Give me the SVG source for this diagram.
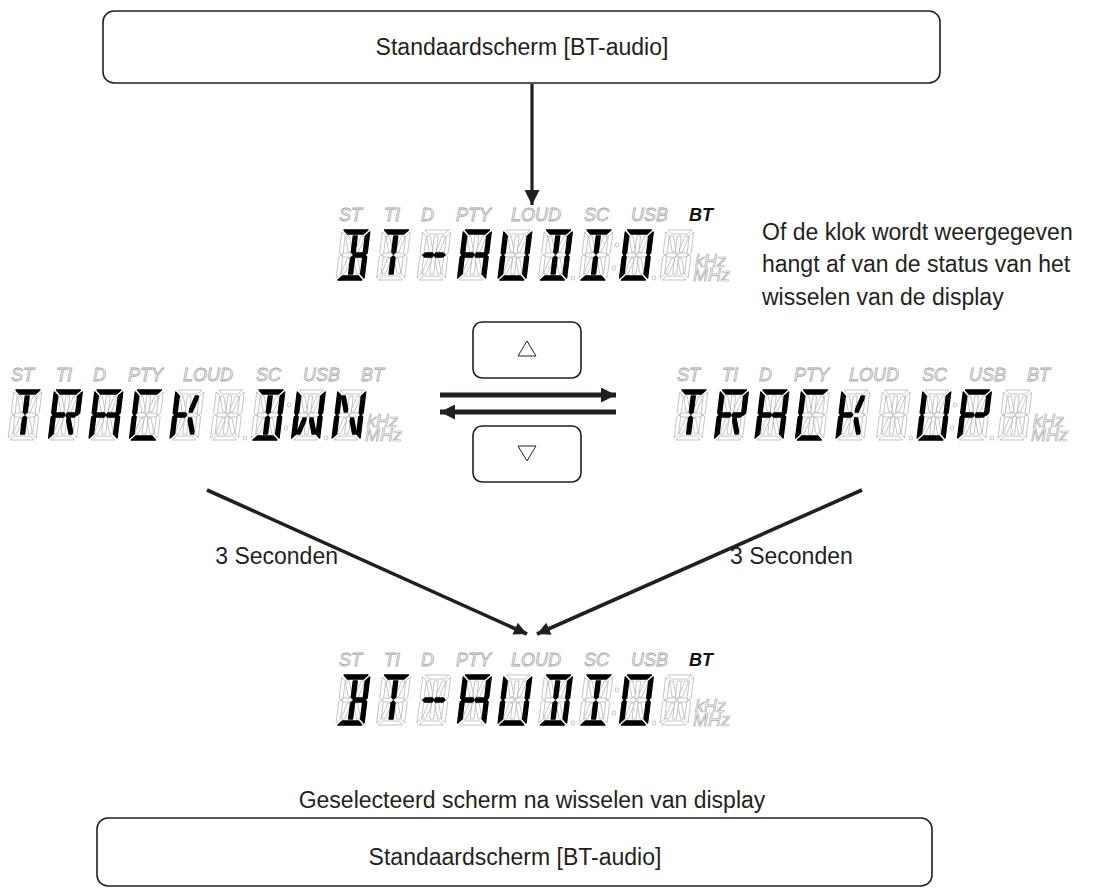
<svg xmlns="http://www.w3.org/2000/svg" xmlns:xlink="http://www.w3.org/1999/xlink" width="1119" height="890" viewBox="0 0 1119 890">
<style>
.box{fill:#fff;stroke:#231f20;stroke-width:1.6}
.lbl{font-family:"Liberation Sans",Arial,sans-serif;font-size:23px;fill:#231f20}
.ind{font-family:"Liberation Sans",Arial,sans-serif;font-size:18px;font-style:italic;fill:#fff;stroke:#a8a8a8;stroke-width:0.8}
.bt{font-family:"Liberation Sans",Arial,sans-serif;font-size:18px;font-style:italic;font-weight:bold;fill:#111}
.unit{font-family:"Liberation Sans",Arial,sans-serif;font-size:18px;font-style:italic;fill:#fff;stroke:#a8a8a8;stroke-width:0.7}
.off{fill:#fff;stroke:#a0a0a0;stroke-width:0.6}
.on{fill:#000;stroke:#000;stroke-width:1.3;stroke-linejoin:round}
.sep{fill:#fff;stroke:#a0a0a0;stroke-width:0.6}
.conn{stroke:#231f20;fill:none}
.tri{fill:#fff;stroke:#231f20;stroke-width:1}
</style>
<defs>
<path id="sa" d="M2,0 L26,0 L22,4 L6,4 Z"/>
<path id="sd" d="M2,50 L26,50 L22,46 L6,46 Z"/>
<path id="sf" d="M0,2 L4,6 L4,23 L2,25 L0,23 Z"/>
<path id="se" d="M0,27 L2,25 L4,27 L4,44 L0,48 Z"/>
<path id="sb" d="M28,2 L28,23 L26,25 L24,23 L24,6 Z"/>
<path id="sc" d="M28,27 L28,48 L24,44 L24,27 L26,25 Z"/>
<path id="sg1" d="M3,25 L5,23 L12.5,23 L13.5,25 L12.5,27 L5,27 Z"/>
<path id="sg2" d="M15.5,23 L23,23 L25,25 L23,27 L15.5,27 L14.5,25 Z"/>
<path id="si" d="M12,6 L16,6 L16,22 L14,24 L12,22 Z"/>
<path id="sl" d="M12,28 L14,26 L16,28 L16,44 L12,44 Z"/>
<path id="sh" d="M5,6 L8,6 L12,19 L12,22 L9,22 L5,9 Z"/>
<path id="sj" d="M23,6 L20,6 L16,19 L16,22 L19,22 L23,9 Z"/>
<path id="sk" d="M5,44 L8,44 L12,31 L12,28 L9,28 L5,41 Z"/>
<path id="sm" d="M23,44 L20,44 L16,31 L16,28 L19,28 L23,41 Z"/>
<g id="cell" class="off">
<use href="#sa"/><use href="#sb"/><use href="#sc"/><use href="#sd"/><use href="#se"/><use href="#sf"/><use href="#sg1"/><use href="#sg2"/><use href="#si"/><use href="#sl"/><use href="#sh"/><use href="#sj"/><use href="#sk"/><use href="#sm"/>
</g>
<g id="gB"><use href="#sa"/><use href="#sb"/><use href="#sc"/><use href="#sd"/><use href="#sg2"/><use href="#si"/><use href="#sl"/></g>
<g id="gT"><use href="#sa"/><use href="#si"/><use href="#sl"/></g>
<g id="gDash"><use href="#sg1"/><use href="#sg2"/></g>
<g id="gA"><use href="#sa"/><use href="#sb"/><use href="#sc"/><use href="#se"/><use href="#sf"/><use href="#sg1"/><use href="#sg2"/></g>
<g id="gU"><use href="#sb"/><use href="#sc"/><use href="#sd"/><use href="#se"/><use href="#sf"/></g>
<g id="gD"><use href="#sa"/><use href="#sb"/><use href="#sc"/><use href="#sd"/><use href="#si"/><use href="#sl"/></g>
<g id="gI"><use href="#sa"/><use href="#sd"/><use href="#si"/><use href="#sl"/></g>
<g id="gO"><use href="#sa"/><use href="#sb"/><use href="#sc"/><use href="#sd"/><use href="#se"/><use href="#sf"/></g>
<g id="gR"><use href="#sa"/><use href="#sb"/><use href="#se"/><use href="#sf"/><use href="#sg1"/><use href="#sg2"/><use href="#sm"/></g>
<g id="gC"><use href="#sa"/><use href="#sd"/><use href="#se"/><use href="#sf"/></g>
<g id="gK"><use href="#se"/><use href="#sf"/><use href="#sg1"/><use href="#sj"/><use href="#sm"/></g>
<g id="gW"><use href="#sb"/><use href="#sc"/><use href="#se"/><use href="#sf"/><use href="#sk"/><use href="#sm"/></g>
<g id="gN"><use href="#sb"/><use href="#sc"/><use href="#se"/><use href="#sf"/><use href="#sh"/><use href="#sm"/></g>
<g id="gP"><use href="#sa"/><use href="#sb"/><use href="#se"/><use href="#sf"/><use href="#sg1"/><use href="#sg2"/></g>
<g id="seps" class="sep">
<ellipse cx="237" cy="48" rx="1.8" ry="2"/>
<ellipse cx="281" cy="15" rx="1.8" ry="2"/>
<ellipse cx="278" cy="38" rx="1.8" ry="2"/>
<ellipse cx="318" cy="48" rx="1.8" ry="2"/>
</g>
<g id="inds">
<text class="ind" x="3" y="-9">ST</text>
<text class="ind" x="48" y="-9">TI</text>
<text class="ind" x="85" y="-9">D</text>
<text class="ind" x="120" y="-9">PTY</text>
<text class="ind" x="175" y="-9">LOUD</text>
<text class="ind" x="248" y="-9">SC</text>
<text class="ind" x="295" y="-9">USB</text>
</g>
<g id="units">
<text class="unit" x="359" y="37">kHz</text>
<text class="unit" x="357" y="51">MHz</text>
</g>
<g id="cells9">
<g transform="translate(6,0) skewX(-7)"><use href="#cell"/></g>
<g transform="translate(46.5,0) skewX(-7)"><use href="#cell"/></g>
<g transform="translate(87,0) skewX(-7)"><use href="#cell"/></g>
<g transform="translate(127.5,0) skewX(-7)"><use href="#cell"/></g>
<g transform="translate(168,0) skewX(-7)"><use href="#cell"/></g>
<g transform="translate(208.5,0) skewX(-7)"><use href="#cell"/></g>
<g transform="translate(249,0) skewX(-7)"><use href="#cell"/></g>
<g transform="translate(289.5,0) skewX(-7)"><use href="#cell"/></g>
<g transform="translate(330,0) skewX(-7)"><use href="#cell"/></g>
</g>
<g id="btaudio">
<use href="#cells9"/><use href="#seps"/><use href="#inds"/><use href="#units"/>
<text class="bt" x="353" y="-9">BT</text>
<g class="on">
<g transform="translate(6,0) skewX(-7)"><use href="#gB"/></g>
<g transform="translate(46.5,0) skewX(-7)"><use href="#gT"/></g>
<g transform="translate(87,0) skewX(-7)"><use href="#gDash"/></g>
<g transform="translate(127.5,0) skewX(-7)"><use href="#gA"/></g>
<g transform="translate(168,0) skewX(-7)"><use href="#gU"/></g>
<g transform="translate(208.5,0) skewX(-7)"><use href="#gD"/></g>
<g transform="translate(249,0) skewX(-7)"><use href="#gI"/></g>
<g transform="translate(289.5,0) skewX(-7)"><use href="#gO"/></g>
</g>
</g>
<marker id="ahBig" viewBox="0 0 10 10" refX="10" refY="5" markerWidth="16" markerHeight="15" markerUnits="userSpaceOnUse" orient="auto"><path d="M0,0 L10,5 L0,10 Z" fill="#231f20"/></marker>
<marker id="ahDown" viewBox="0 0 10 10" refX="10" refY="5" markerWidth="18" markerHeight="15" markerUnits="userSpaceOnUse" orient="auto"><path d="M0,0 L10,5 L0,10 Z" fill="#231f20"/></marker>
<marker id="ahSmall" viewBox="0 0 10 10" refX="10" refY="5" markerWidth="16" markerHeight="13" markerUnits="userSpaceOnUse" orient="auto"><path d="M0,0 L10,5 L0,10 Z" fill="#231f20"/></marker>
</defs>
<rect width="1119" height="890" fill="#fff"/>

<g id="connectors">
<line class="conn" x1="532" y1="84" x2="532" y2="205" stroke-width="3.2" marker-end="url(#ahDown)"/>
<line class="conn" x1="440" y1="395" x2="616" y2="395" stroke-width="5" marker-end="url(#ahBig)"/>
<line class="conn" x1="616" y1="412" x2="440" y2="412" stroke-width="5" marker-end="url(#ahBig)"/>
<line class="conn" x1="207" y1="490" x2="527" y2="634" stroke-width="3.6" marker-end="url(#ahSmall)"/>
<line class="conn" x1="862" y1="490" x2="537" y2="634" stroke-width="3.6" marker-end="url(#ahSmall)"/>
</g>

<g id="node-top">
<rect class="box" x="103" y="11" width="837" height="72" rx="11"/>
<text class="lbl" x="522" y="55" text-anchor="middle">Standaardscherm [BT-audio]</text>
</g>

<g id="node-lcd-top" transform="translate(336,230)"><use href="#btaudio"/></g>

<g id="node-note">
<text class="lbl" x="762" y="240">Of de klok wordt weergegeven</text>
<text class="lbl" x="762" y="272">hangt af van de status van het</text>
<text class="lbl" x="762" y="305">wisselen van de display</text>
</g>

<g id="node-btn-up">
<rect class="box" x="473" y="322" width="108" height="56" rx="9"/>
<polygon class="tri" points="527,341 536,356 518,356"/>
</g>
<g id="node-btn-down">
<rect class="box" x="473" y="426" width="108" height="56" rx="9"/>
<polygon class="tri" points="518,446 536,446 527,461"/>
</g>

<g id="node-lcd-dwn" transform="translate(8,390)">
<use href="#cells9"/><use href="#seps"/><use href="#inds"/><use href="#units"/>
<text class="ind" x="353" y="-9">BT</text>
<g class="on">
<g transform="translate(6,0) skewX(-7)"><use href="#gT"/></g>
<g transform="translate(46.5,0) skewX(-7)"><use href="#gR"/></g>
<g transform="translate(87,0) skewX(-7)"><use href="#gA"/></g>
<g transform="translate(127.5,0) skewX(-7)"><use href="#gC"/></g>
<g transform="translate(168,0) skewX(-7)"><use href="#gK"/></g>
<g transform="translate(249,0) skewX(-7)"><use href="#gD"/></g>
<g transform="translate(289.5,0) skewX(-7)"><use href="#gW"/></g>
<g transform="translate(330,0) skewX(-7)"><use href="#gN"/></g>
</g>
</g>

<g id="node-lcd-up" transform="translate(674,390)">
<use href="#cells9"/><use href="#seps"/><use href="#inds"/><use href="#units"/>
<text class="ind" x="353" y="-9">BT</text>
<g class="on">
<g transform="translate(6,0) skewX(-7)"><use href="#gT"/></g>
<g transform="translate(46.5,0) skewX(-7)"><use href="#gR"/></g>
<g transform="translate(87,0) skewX(-7)"><use href="#gA"/></g>
<g transform="translate(127.5,0) skewX(-7)"><use href="#gC"/></g>
<g transform="translate(168,0) skewX(-7)"><use href="#gK"/></g>
<g transform="translate(249,0) skewX(-7)"><use href="#gU"/></g>
<g transform="translate(289.5,0) skewX(-7)"><use href="#gP"/></g>
</g>
</g>

<g id="label-3s-left"><text class="lbl" x="338" y="564" text-anchor="end">3 Seconden</text></g>
<g id="label-3s-right"><text class="lbl" x="730" y="564">3 Seconden</text></g>

<g id="node-lcd-bottom" transform="translate(336,675)"><use href="#btaudio"/></g>

<g id="label-selected"><text class="lbl" x="532" y="808" text-anchor="middle">Geselecteerd scherm na wisselen van display</text></g>

<g id="node-bottom">
<rect class="box" x="97" y="818" width="835" height="68" rx="11"/>
<text class="lbl" x="515" y="865" text-anchor="middle">Standaardscherm [BT-audio]</text>
</g>
</svg>
